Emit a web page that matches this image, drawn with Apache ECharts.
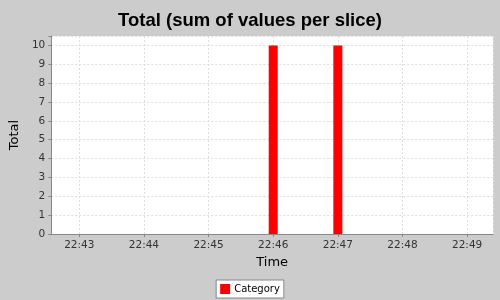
<!DOCTYPE html>
<html>
<head>
<meta charset="utf-8">
<script src="https://cdn.jsdelivr.net/npm/echarts@6/dist/echarts.min.js"></script>
<style>html,body{margin:0;padding:0;background:#cccccc;}#c{width:500px;height:300px;}</style>
</head>
<body>
<div id="c"></div>
<script>
var titleText = 'Total (sum of values per slice)';
var seriesName = 'Category';
var times = ['22:46', '22:47'];
var totals = [10, 10];
var axisStart = '22:42:34';
var axisEnd = '22:49:24';
var yTicks = [0,1,2,3,4,5,6,7,8,9,10];

// minutes since midnight
function mins(t){ var p = t.split(':').map(Number); return p[0] * 60 + p[1] + (p[2] || 0) / 60; }
function pad(n){ return (n < 10 ? '0' : '') + n; }
var data = times.map(function(t, i){ return [mins(t), totals[i]]; });

var chart = echarts.init(document.getElementById('c'), null, {renderer: 'canvas'});
chart.setOption({
  backgroundColor: '#cccccc',
  animation: false,
  title: {
    text: titleText, left: 'center', top: 6,
    textStyle: {fontFamily: 'Liberation Sans', fontWeight: 'bold', fontSize: 18.5, color: '#000'}
  },
  grid: {left: 50, right: 7, top: 36, bottom: 66, backgroundColor: '#ffffff', show: true, borderWidth: 0},
  legend: {
    bottom: 2, left: 'center', data: [seriesName], icon: 'rect', itemWidth: 10, itemHeight: 10, itemGap: 4,
    backgroundColor: '#ffffff', borderColor: '#888888', borderWidth: 1, padding: [4, 4, 4, 4], borderRadius: 0,
    textStyle: {fontFamily: 'DejaVu Sans', fontSize: 10, color: '#000', padding: [0, 0, 0, -1]}
  },
  xAxis: {
    type: 'value', min: mins(axisStart), max: mins(axisEnd),
    minInterval: 1, maxInterval: 1,
    name: 'Time', nameLocation: 'middle', nameGap: 22,
    nameTextStyle: {fontFamily: 'DejaVu Sans', fontSize: 13, color: '#000'},
    axisLine: {lineStyle: {color: '#888888'}},
    axisTick: {show: true, length: 3, lineStyle: {color: '#888888'}},
    axisLabel: {
      fontFamily: 'DejaVu Sans', fontSize: 10.5, color: '#333', margin: 6,
      showMinLabel: false, showMaxLabel: false, hideOverlap: false,
      formatter: function(v){
        if (Math.abs(v - Math.round(v)) > 1e-6) return '';
        var m = Math.round(v);
        return pad(Math.floor(m / 60)) + ':' + pad(m % 60);
      }
    },
    splitLine: {show: true, lineStyle: {color: '#dddddd', type: [2, 2]}}
  },
  yAxis: {
    type: 'value', min: yTicks[0], max: 10.5, interval: 1,
    name: 'Total', nameLocation: 'middle', nameGap: 25, nameRotate: 90,
    nameTextStyle: {fontFamily: 'DejaVu Sans', fontSize: 13, color: '#000'},
    axisLine: {show: true, lineStyle: {color: '#888888'}},
    axisTick: {show: true, length: 3, lineStyle: {color: '#888888'}},
    axisLabel: {
      fontFamily: 'DejaVu Sans', fontSize: 10.5, color: '#333', margin: 6,
      formatter: function(v){ return yTicks.indexOf(v) >= 0 ? String(v) : ''; }
    },
    splitLine: {show: true, lineStyle: {color: '#dddddd', type: [2, 2]}}
  },
  series: [{
    name: seriesName, type: 'bar', data: data, barWidth: 9,
    itemStyle: {color: '#ff0000'}
  }]
});
</script>
</body>
</html>
